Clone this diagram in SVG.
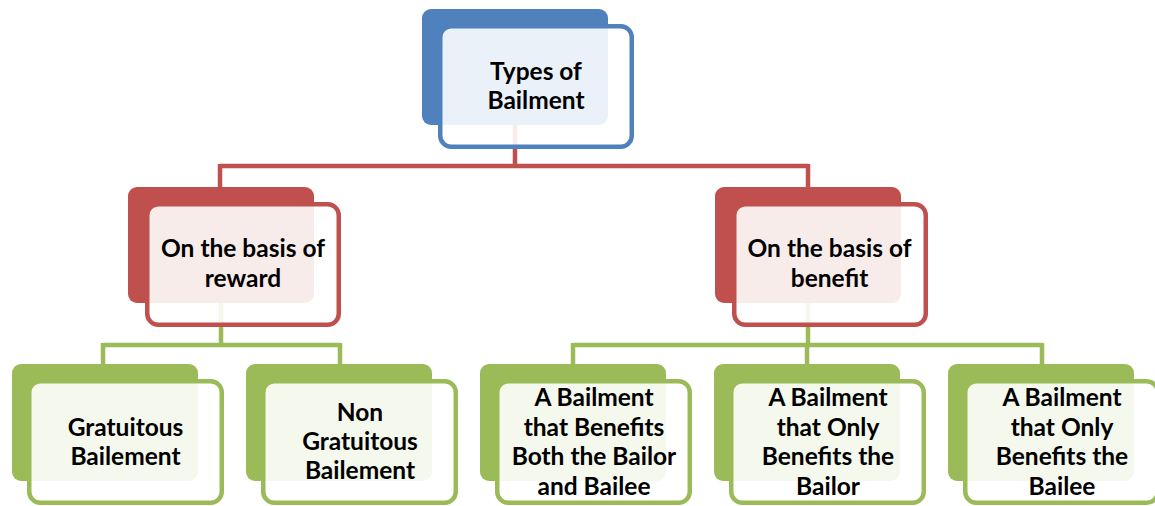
<svg xmlns="http://www.w3.org/2000/svg" width="1155" height="506" viewBox="0 0 1155 506">
<style>
.bg{fill:#ffffff}
.conn{fill:none;stroke-width:4.5;stroke-linejoin:miter}
.cr{stroke:#C0504D}
.cg{stroke:#9BBB59}
.back{stroke:none}
.front{fill:#ffffff;fill-opacity:0.89;stroke-width:4.5}
.blue .back{fill:#4F81BD}.blue .front{stroke:#4F81BD}
.red .back{fill:#C0504D}.red .front{stroke:#C0504D}
.green .back{fill:#9BBB59}.green .front{stroke:#9BBB59}
text{font-family:Lato,"Liberation Sans",Arial,sans-serif;font-weight:700;font-size:24.5px;fill:#000000;text-anchor:middle}
</style>
<rect class="bg" x="0" y="0" width="1155" height="506"/>
<g id="connectors">
<path class="conn cr" d="M515 125V166M220 166H808M220 164V187M808 164V187"/>
<path class="conn cg" d="M221 303V345M103 345H340M103 343V364M340 343V364"/>
<path class="conn cg" d="M808 303V345M573 345H1042M573 343V364M807 343V364M1042 343V364"/>
</g>
<g id="node-types" class="blue">
<rect class="back" x="422" y="9" width="186" height="116" rx="9"/>
<rect class="front" x="440.25" y="26.25" width="191.5" height="120.5" rx="11"/>
<text x="536" y="80">Types of</text>
<text x="536" y="109">Bailment</text>
</g>
<g id="node-reward" class="red">
<rect class="back" x="128" y="187" width="186" height="116" rx="9"/>
<rect class="front" x="147.25" y="204.25" width="191.5" height="120.5" rx="11"/>
<text x="243" y="257">On the basis of</text>
<text x="243" y="287">reward</text>
</g>
<g id="node-benefit" class="red">
<rect class="back" x="715" y="187" width="186" height="116" rx="9"/>
<rect class="front" x="734.25" y="204.25" width="191.5" height="120.5" rx="11"/>
<text x="829.5" y="257">On the basis of</text>
<text x="829.5" y="287">benefit</text>
</g>
<g id="node-gratuitous" class="green">
<rect class="back" x="12" y="364" width="186" height="117" rx="9"/>
<rect class="front" x="29.25" y="381.25" width="192.5" height="121.5" rx="11"/>
<text x="125.5" y="436">Gratuitous</text>
<text x="125.5" y="465">Bailement</text>
</g>
<g id="node-non-gratuitous" class="green">
<rect class="back" x="246" y="364" width="186" height="117" rx="9"/>
<rect class="front" x="263.25" y="381.25" width="192.5" height="121.5" rx="11"/>
<text x="360" y="421">Non</text>
<text x="360" y="450">Gratuitous</text>
<text x="360" y="479">Bailement</text>
</g>
<g id="node-both" class="green">
<rect class="back" x="480" y="364" width="186" height="117" rx="9"/>
<rect class="front" x="497.25" y="381.25" width="192.5" height="121.5" rx="11"/>
<text x="594" y="406">A Bailment</text>
<text x="594" y="435.5">that Benefits</text>
<text x="594" y="465">Both the Bailor</text>
<text x="594" y="494.5">and Bailee</text>
</g>
<g id="node-bailor" class="green">
<rect class="back" x="714" y="364" width="186" height="117" rx="9"/>
<rect class="front" x="731.25" y="381.25" width="192.5" height="121.5" rx="11"/>
<text x="828" y="406">A Bailment</text>
<text x="828" y="435.5">that Only</text>
<text x="828" y="465">Benefits the</text>
<text x="828" y="494.5">Bailor</text>
</g>
<g id="node-bailee" class="green">
<rect class="back" x="948" y="364" width="186" height="117" rx="9"/>
<rect class="front" x="965.25" y="381.25" width="192.5" height="121.5" rx="11"/>
<text x="1062" y="406">A Bailment</text>
<text x="1062" y="435.5">that Only</text>
<text x="1062" y="465">Benefits the</text>
<text x="1062" y="494.5">Bailee</text>
</g>
</svg>
